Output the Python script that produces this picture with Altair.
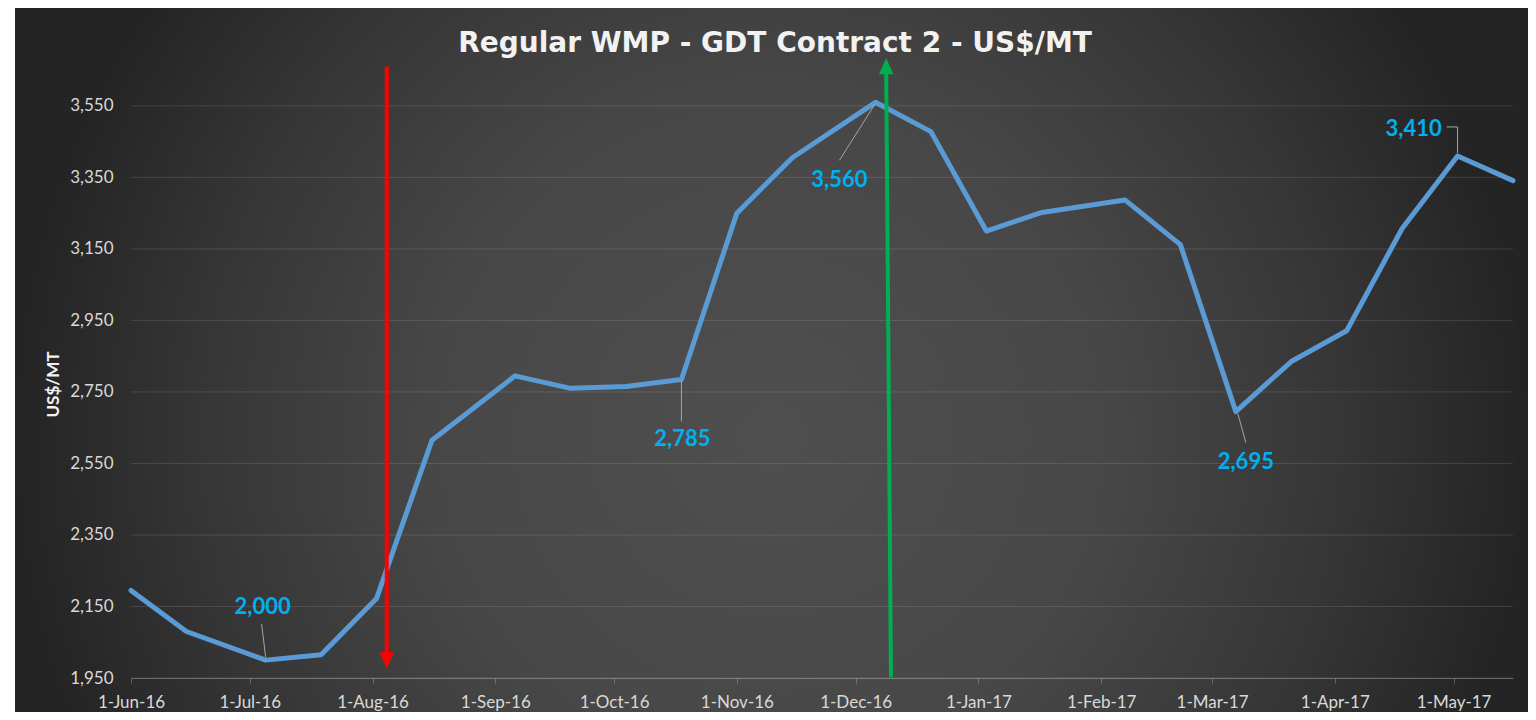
import altair as alt
import pandas as pd

# ---- data -------------------------------------------------------------
auction_dates = ["2016-06-01", "2016-06-15", "2016-07-05", "2016-07-19", "2016-08-02",
                 "2016-08-16", "2016-09-06", "2016-09-20", "2016-10-04", "2016-10-18",
                 "2016-11-01", "2016-11-15", "2016-12-06", "2016-12-20", "2017-01-03",
                 "2017-01-17", "2017-02-07", "2017-02-21", "2017-03-07", "2017-03-21",
                 "2017-04-04", "2017-04-18", "2017-05-02", "2017-05-16"]
prices = [2195, 2080, 2000, 2015, 2172, 2615, 2795, 2760, 2765, 2785,
          3250, 3405, 3560, 3478, 3200, 3252, 3287, 3162, 2695, 2835,
          2921, 3207, 3410, 3341]

label_dates = ["2016-07-05", "2016-10-18", "2016-12-06", "2017-03-07", "2017-05-02"]
label_values = [2000, 2785, 3560, 2695, 3410]
label_texts = ["2,000", "2,785", "3,560", "2,695", "3,410"]

month_ticks = ["2016-06-01", "2016-07-01", "2016-08-01", "2016-09-01", "2016-10-01",
               "2016-11-01", "2016-12-01", "2017-01-01", "2017-02-01", "2017-03-01",
               "2017-04-01", "2017-05-01"]
y_ticks = [1950, 2150, 2350, 2550, 2750, 2950, 3150, 3350, 3550]

# annotation arrows (tail -> tip), in data units
arrow_tail_dates = ["2016-08-04T14:00:00Z", "2016-12-09T22:00:00Z"]
arrow_tail_values = [3660, 1952]
arrow_tip_dates = ["2016-08-04T14:00:00Z", "2016-12-08T17:00:00Z"]
arrow_tip_values = [1977, 3683]
arrow_colors = ["#ff0000", "#00b050"]

title_text = "Regular WMP - GDT Contract 2 - US$/MT"

# ---- helpers ----------------------------------------------------------
def dt(s):
    y, m, d = (int(p) for p in s.split("-"))
    return alt.DateTime(year=y, month=m, date=d, utc=True)

df = pd.DataFrame({"date": auction_dates, "price": prices})
labels_df = pd.DataFrame({"date": label_dates, "price": label_values, "txt": label_texts})
grid_df = pd.DataFrame({"price": y_ticks})

x_scale = alt.Scale(type="utc", domain=[dt("2016-06-01"), dt("2017-05-16")])
y_scale = alt.Scale(domain=[1950, 3600], nice=False, zero=False)

x_axis = alt.Axis(
    values=[dt(s) for s in month_ticks], format="%-d-%b-%y", title=None,
    labelFont="Lato", labelFontSize=17, labelColor="#d9d9d9",
    labelFlush=False, labelOverlap=False, labelPadding=11,
    grid=False, domainColor="#ffffff", domainOpacity=0.25,
    tickColor="#ffffff", tickOpacity=0.25, tickSize=5, zindex=1,
)
y_axis = alt.Axis(
    values=y_ticks, format=",.0f", title="US$/MT",
    titleX=-78, titleY=296, titleAngle=270, titleAlign="center", titleBaseline="middle",
    titleFont="Lato", titleFontWeight="bold", titleFontSize=17, titleColor="#f2f2f2",
    labelFont="Lato", labelFontSize=17, labelColor="#d9d9d9", labelPadding=18,
    domain=False, ticks=False, grid=False, zindex=1,
)

def X(f):
    return alt.X(f, scale=x_scale, axis=x_axis)

def Y(f):
    return alt.Y(f, scale=y_scale, axis=y_axis)

one = pd.DataFrame({"k": [0]})

background = alt.Chart(one).mark_rect(
    fill=alt.RadialGradient(
        gradient="radial",
        stops=[alt.GradientStop(color="#4f4f4f", offset=0),
               alt.GradientStop(color="#474747", offset=0.45),
               alt.GradientStop(color="#363636", offset=0.75),
               alt.GradientStop(color="#242424", offset=1)],
        x1=0.5, y1=0.55, r1=0, x2=0.5, y2=0.55, r2=0.5,
    )
).encode(x=alt.value(-116), x2=alt.value(1397), y=alt.value(-80), y2=alt.value(624))

gridlines = alt.Chart(grid_df).mark_rule(
    color="#ffffff", opacity=0.12, strokeWidth=1
).encode(y=Y("price:Q"), x=alt.value(0), x2=alt.value(1382))

title = alt.Chart(one).mark_text(
    text=title_text, font="DejaVu Sans", fontWeight="bold", fontSize=28,
    color="#f2f2f2", align="center", baseline="alphabetic",
).encode(x=alt.value(644), y=alt.value(-36))

line = alt.Chart(df).mark_line(
    color="#5b9bd5", strokeWidth=5, strokeCap="round", strokeJoin="round"
).encode(x=X("date:T"), y=Y("price:Q"))

# data labels with leader lines (offsets in px relative to the point)
label_style = [
    dict(dx=-3, dy=-53, leaders=[(-4, -36, 0, -3)]),
    dict(dx=1, dy=60, leaders=[(0, 42, 0, 2)]),
    dict(dx=-36, dy=78, leaders=[(-36, 58, 0, 1)]),
    dict(dx=10, dy=50, leaders=[(10, 31, 2, 2)]),
    dict(dx=-44, dy=-27, leaders=[(-11, -29, 0, -29), (0, -29, 0, -3)]),
]
label_layers = []
for i, st in enumerate(label_style):
    sub = labels_df.iloc[[i]]
    for (xo, yo, x2o, y2o) in st["leaders"]:
        label_layers.append(
            alt.Chart(sub).mark_rule(
                color="#a6a6a6", strokeWidth=1,
                xOffset=xo, yOffset=yo, x2Offset=x2o, y2Offset=y2o,
            ).encode(x=X("date:T"), y=Y("price:Q"), x2="date:T", y2="price:Q")
        )
    label_layers.append(
        alt.Chart(sub).mark_text(
            font="Lato", fontWeight="bold", fontSize=22, color="#00b0f0",
            align="center", baseline="middle", dx=st["dx"], dy=st["dy"],
        ).encode(x=X("date:T"), y=Y("price:Q"), text="txt:N")
    )

# arrows
arrow_layers = []
head_down = "M-0.9,-1L0.9,-1L0,1Z"
head_up = "M-0.9,1L0.9,1L0,-1Z"
for i in range(2):
    a = pd.DataFrame({"t0": [arrow_tail_dates[i]], "v0": [arrow_tail_values[i]],
                      "t1": [arrow_tip_dates[i]], "v1": [arrow_tip_values[i]]})
    down = arrow_tip_values[i] < arrow_tail_values[i]
    arrow_layers.append(
        alt.Chart(a).mark_rule(
            color=arrow_colors[i], strokeWidth=4,
            y2Offset=-10 if down else 10,
        ).encode(x=X("t0:T"), y=Y("v0:Q"), x2="t1:T", y2="v1:Q")
    )
    arrow_layers.append(
        alt.Chart(a).mark_point(
            shape=head_down if down else head_up, size=256, filled=True,
            color=arrow_colors[i], opacity=1, strokeWidth=0,
            yOffset=-8 if down else 8,
        ).encode(x=X("t1:T"), y=Y("v1:Q"))
    )

chart = alt.layer(background, gridlines, title, line, *label_layers, *arrow_layers).properties(
    width=1382, height=590,
    autosize=alt.AutoSizeParams(type="none"),
    padding={"left": 123, "top": 80, "right": 15, "bottom": 34},
    background="#ffffff",
).configure_view(stroke=None)

chart.save("out.html", embed_options={"renderer": "svg", "actions": False})
